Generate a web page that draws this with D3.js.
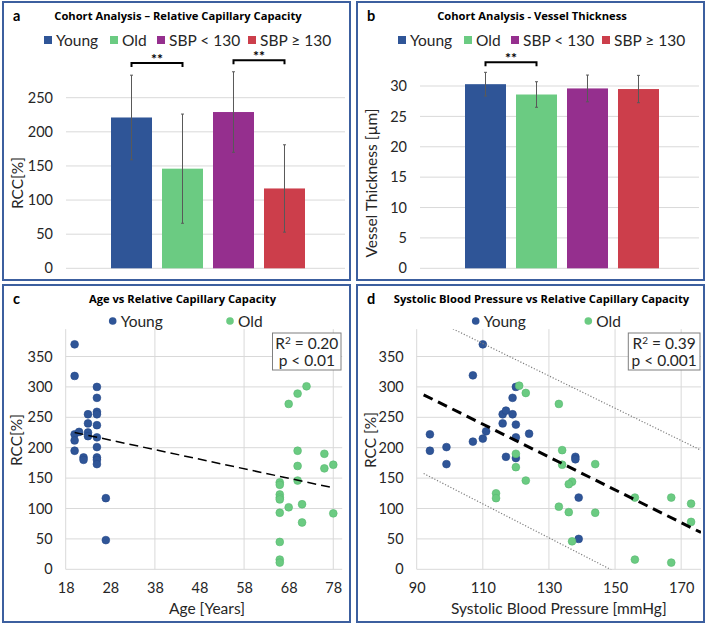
<!DOCTYPE html>
<html>
<head>
<meta charset="utf-8">
<script src="https://cdn.jsdelivr.net/npm/d3@7"></script>
<style>
  html, body { margin: 0; padding: 0; background: #fff; }
  svg { display: block; font-family: Lato, "Noto Sans", sans-serif; }
</style>
</head>
<body>
<svg id="chart" width="708" height="626"></svg>
<script>
// ---------- DATA ----------
const barCategories = ["Young", "Old", "SBP < 130", "SBP ≥ 130"];
const barColors = ["#2f5597", "#6bcb82", "#952f8e", "#cc3e4b"];
const rccMeans = [221, 146, 229, 117];
const rccErrors = [62, 80, 59, 64];
const thicknessMeans = [30.3, 28.6, 29.6, 29.5];
const thicknessErrors = [1.95, 2.1, 2.2, 2.25];
const rccTicks = [0, 50, 100, 150, 200, 250];
const thicknessTicks = [0, 5, 10, 15, 20, 25, 30];
// significance brackets: [fromIndex, toIndex, heightValue]
const rccBrackets = [[0, 1, 301], [2, 3, 305]];
const thicknessBrackets = [[0, 1, 33.9]];

const scatterYTicks = [0, 50, 100, 150, 200, 250, 300, 350];
const ageTicks = [18, 28, 38, 48, 58, 68, 78];
const ageGridTicks = [18, 38, 58, 78];
const sbpTicks = [90, 110, 130, 150, 170];

const youngAge = [20, 20, 20, 20, 20, 21, 22, 22, 23, 23, 23, 23, 25, 25, 25, 25, 25, 25, 25, 25, 25, 25, 27, 27];
const youngAgeRCC = [370, 318, 222, 212, 195, 226, 184, 180, 255, 240, 225, 219, 300, 282, 259, 255, 237, 217, 201, 184, 180, 173, 117, 48];
const oldAge = [68, 70, 72, 70, 70, 70, 76, 76, 78, 66, 66, 66, 66, 66, 66, 66, 66, 66, 68, 71, 71, 78];
const oldAgeRCC = [272, 289, 301, 195, 170, 146, 190, 166, 172, 143, 139, 123, 118, 115, 93, 45, 16, 11, 102, 107, 77, 92];

const youngSBP = [110, 107, 94, 94, 99, 99, 107, 110, 111, 116, 116, 117, 119, 119, 120, 120, 120, 120, 117, 124, 138, 138, 139, 139];
const youngSBPRCC = [370, 319, 222, 195, 201, 173, 210, 215, 227, 240, 255, 261, 255, 282, 300, 238, 217, 183, 185, 223, 185, 181, 118, 50];
const oldSBP = [121, 123, 120, 120, 123, 114, 114, 133, 134, 134, 144, 137, 136, 133, 136, 144, 137, 156, 167, 173, 173, 156, 167];
const oldSBPRCC = [302, 290, 190, 168, 146, 125, 117, 272, 196, 172, 173, 144, 140, 103, 94, 93, 46, 118, 118, 108, 78, 16, 11];

// trend lines: [slope, intercept, xStart, xEnd]
const ageTrend = [-1.569, 256.4, 20, 78];
const sbpTrend = [-2.7, 535.7, 92.1, 176];
const sbpUpperBand = [-2.66, 664, 92, 176];
const sbpLowerBand = [-2.79, 414.5, 92.1, 176];

const scatterSeries = ["Young", "Old"];
const scatterColors = ["#2f5597", "#6bcb82"];
const scatterStrokes = ["#25488a", "#58b870"];

// ---------- DRAW ----------
const svg = d3.select("#chart");
svg.append("rect").attr("width", 708).attr("height", 626).attr("fill", "#fff");

const borderColor = "#3c5f9f";
const gridColor = "#d9d9d9";
const textColor = "#262626";

function panelFrame(x, y, w, h, letter, title, titleCx) {
  svg.append("rect").attr("x", x).attr("y", y).attr("width", w).attr("height", h)
    .attr("fill", "none").attr("stroke", borderColor).attr("stroke-width", 2);
  svg.append("text").attr("x", x + 10).attr("y", y + 19).attr("font-size", 14.5)
    .attr("font-weight", "bold").attr("fill", "#000").text(letter);
  svg.append("text").attr("x", titleCx).attr("y", y + 18).attr("font-size", 11.2)
    .attr("font-family", "'Open Sans', sans-serif")
    .attr("font-weight", "bold").attr("text-anchor", "middle").attr("fill", "#000").text(title);
}

function barPanel(ox, means, errors, ticks, brackets, yTitle, title, letter, topPx) {
  panelFrame(ox + 3, 2, 347, 278, letter, title, ox + 178);
  const y = d3.scaleLinear().domain([0, ticks[ticks.length - 1]]).range([268.3, topPx]);
  const x = d3.scaleBand().domain(barCategories).range([ox + 111, ox + 305]).paddingInner(0.196);
  const g = svg.append("g");
  // gridlines
  g.selectAll(".grid").data(ticks).join("line")
    .attr("x1", ox + 66).attr("x2", ox + 345)
    .attr("y1", d => y(d)).attr("y2", d => y(d))
    .attr("stroke", gridColor).attr("stroke-width", 1);
  // y axis labels
  const axis = d3.axisLeft(y).tickValues(ticks).tickSize(0).tickPadding(0);
  const ag = g.append("g").attr("transform", `translate(${ox + 53},0)`).call(axis);
  ag.select(".domain").remove();
  ag.selectAll("text").attr("font-size", 14.5).attr("fill", textColor).attr("font-family", "Lato, sans-serif");
  // y title
  g.append("text").attr("transform", `translate(${ox + 23},${183}) rotate(-90)`)
    .attr("text-anchor", "middle").attr("font-size", 15.5).attr("fill", textColor).text(yTitle);
  // bars
  g.selectAll(".bar").data(means).join("rect")
    .attr("x", (d, i) => x(barCategories[i])).attr("width", x.bandwidth())
    .attr("y", d => y(d)).attr("height", d => y(0) - y(d))
    .attr("fill", (d, i) => barColors[i]);
  // error bars
  means.forEach((m, i) => {
    const cx = x(barCategories[i]) + x.bandwidth() / 2;
    const top = y(m + errors[i]), bot = y(m - errors[i]);
    g.append("line").attr("x1", cx).attr("x2", cx).attr("y1", top).attr("y2", bot)
      .attr("stroke", "#595959").attr("stroke-width", 1);
    [top, bot].forEach(v => g.append("line").attr("x1", cx - 1.5).attr("x2", cx + 1.5)
      .attr("y1", v).attr("y2", v).attr("stroke", "#595959").attr("stroke-width", 1));
  });
  // brackets
  brackets.forEach(([a, b, h]) => {
    const x1 = x(barCategories[a]) + x.bandwidth() / 2;
    const x2 = x(barCategories[b]) + x.bandwidth() / 2;
    const yy = y(h);
    g.append("path").attr("d", `M${x1},${yy + 4}V${yy}H${x2}V${yy + 4}`)
      .attr("fill", "none").attr("stroke", "#000").attr("stroke-width", 2);
    g.append("text").attr("x", (x1 + x2) / 2).attr("y", yy + 1).attr("text-anchor", "middle")
      .attr("font-size", 14).attr("font-weight", "bold").attr("fill", "#000").text("**");
  });
  // legend
  const legX = [44, 110, 157, 248];
  barCategories.forEach((c, i) => {
    g.append("rect").attr("x", ox + legX[i]).attr("y", 36).attr("width", 8).attr("height", 8).attr("fill", barColors[i]);
    g.append("text").attr("x", ox + legX[i] + 12).attr("y", 45.5).attr("font-size", 15.5)
      .attr("fill", textColor).text(c);
  });
}

barPanel(0, rccMeans, rccErrors, rccTicks, rccBrackets, "RCC[%]", "Cohort Analysis – Relative Capillary Capacity", "a", 97.7);
barPanel(354, thicknessMeans, thicknessErrors, thicknessTicks, thicknessBrackets, "Vessel Thickness [µm]", "Cohort Analysis - Vessel Thickness", "b", 86);

function scatterPanel(ox, xDomain, xRange, xTicks, gridTicks, series, trends, rText, pText, boxX, boxW, yTitle, xTitle, title, letter, legendX, titleCx, trendStyle) {
  panelFrame(ox + 3, 285, 347, 337, letter, title, titleCx);
  const x = d3.scaleLinear().domain(xDomain).range(xRange);
  const y = d3.scaleLinear().domain([0, 350]).range([569.3, 356.5]);
  const yTop = y(395);
  const g = svg.append("g");
  // horizontal grid
  g.selectAll(".hg").data(scatterYTicks).join("line")
    .attr("x1", xRange[0]).attr("x2", xRange[1])
    .attr("y1", d => y(d)).attr("y2", d => y(d))
    .attr("stroke", gridColor).attr("stroke-width", 1);
  // vertical grid
  g.selectAll(".vg").data(gridTicks).join("line")
    .attr("x1", d => x(d)).attr("x2", d => x(d))
    .attr("y1", yTop).attr("y2", y(0))
    .attr("stroke", gridColor).attr("stroke-width", 1);
  // axes labels
  const ya = g.append("g").attr("transform", `translate(${xRange[0] - 13},0)`)
    .call(d3.axisLeft(y).tickValues(scatterYTicks).tickSize(0).tickPadding(0));
  ya.select(".domain").remove();
  ya.selectAll("text").attr("font-size", 14.5).attr("fill", textColor).attr("font-family", "Lato, sans-serif");
  const xa = g.append("g").attr("transform", `translate(0,${y(0) + 13})`)
    .call(d3.axisBottom(x).tickValues(xTicks).tickSize(0).tickPadding(0).tickFormat(d3.format("d")));
  xa.select(".domain").remove();
  xa.selectAll("text").attr("font-size", 14.5).attr("fill", textColor).attr("font-family", "Lato, sans-serif");
  g.append("text").attr("transform", `translate(${ox + 22},${440}) rotate(-90)`)
    .attr("text-anchor", "middle").attr("font-size", 15.5).attr("fill", textColor).text(yTitle);
  g.append("text").attr("x", (xRange[0] + xRange[1]) / 2 + (ox ? 0 : 3)).attr("y", 614)
    .attr("text-anchor", "middle").attr("font-size", 15.5).attr("fill", textColor).text(xTitle);
  // clip
  const cid = "clip" + letter;
  svg.append("clipPath").attr("id", cid).append("rect")
    .attr("x", xRange[0]).attr("y", yTop).attr("width", xRange[1] - xRange[0]).attr("height", y(0) - yTop);
  // points
  series.forEach((s, si) => {
    g.selectAll(".pt" + si).data(d3.zip(s[0], s[1])).join("circle")
      .attr("cx", d => x(d[0])).attr("cy", d => y(d[1])).attr("r", 3.9)
      .attr("fill", scatterColors[si]).attr("stroke", scatterStrokes[si]).attr("stroke-width", 0.6);
  });
  // trend lines
  const tg = g.append("g").attr("clip-path", `url(#${cid})`);
  trends.forEach((t, ti) => {
    const [m, b, x0, x1] = t;
    const st = trendStyle[ti];
    tg.append("line").attr("x1", x(x0)).attr("y1", y(m * x0 + b)).attr("x2", x(x1)).attr("y2", y(m * x1 + b))
      .attr("stroke", st.color).attr("stroke-width", st.w).attr("stroke-dasharray", st.dash);
  });
  // R² box
  g.append("rect").attr("x", boxX).attr("y", 333).attr("width", boxW).attr("height", 37)
    .attr("fill", "#fff").attr("stroke", "#7f7f7f").attr("stroke-width", 1);
  const t1 = g.append("text").attr("x", boxX + boxW / 2).attr("y", 348.5).attr("text-anchor", "middle")
    .attr("font-size", 15.5).attr("fill", textColor);
  t1.append("tspan").text("R");
  t1.append("tspan").attr("font-size", 10).attr("dy", -5).text("2");
  t1.append("tspan").attr("dy", 5).text(" = " + rText);
  g.append("text").attr("x", boxX + boxW / 2).attr("y", 366).attr("text-anchor", "middle")
    .attr("font-size", 15.5).attr("fill", textColor).text("p < " + pText);
  // legend
  scatterSeries.forEach((s, i) => {
    g.append("circle").attr("cx", legendX[i]).attr("cy", 321).attr("r", 3.8).attr("fill", scatterColors[i]);
    g.append("text").attr("x", legendX[i] + 8).attr("y", 326.5).attr("font-size", 15.5)
      .attr("fill", textColor).text(s);
  });
}

scatterPanel(0, [18, 80], [65.7, 342.2], ageTicks, ageGridTicks,
  [[youngAge, youngAgeRCC], [oldAge, oldAgeRCC]],
  [ageTrend], "0.20", "0.01", 272.5, 68.5, "RCC[%]", "Age [Years]",
  "Age vs Relative Capillary Capacity", "c", [112.7, 230], 182.5,
  [{ color: "#000", w: 1.5, dash: "9,5" }]);

scatterPanel(354, [90, 176], [416.7, 701], sbpTicks, sbpTicks,
  [[youngSBP, youngSBPRCC], [oldSBP, oldSBPRCC]],
  [sbpTrend, sbpUpperBand, sbpLowerBand], "0.39", "0.001", 628.3, 71.7, "RCC [%]", "Systolic Blood Pressure [mmHg]",
  "Systolic Blood Pressure vs Relative Capillary Capacity", "d", [475.7, 588.3], 541.5,
  [{ color: "#000", w: 3, dash: "10,6" }, { color: "#808080", w: 1.2, dash: "1.2,1.8" }, { color: "#808080", w: 1.2, dash: "1.2,1.8" }]);
</script>
</body>
</html>
